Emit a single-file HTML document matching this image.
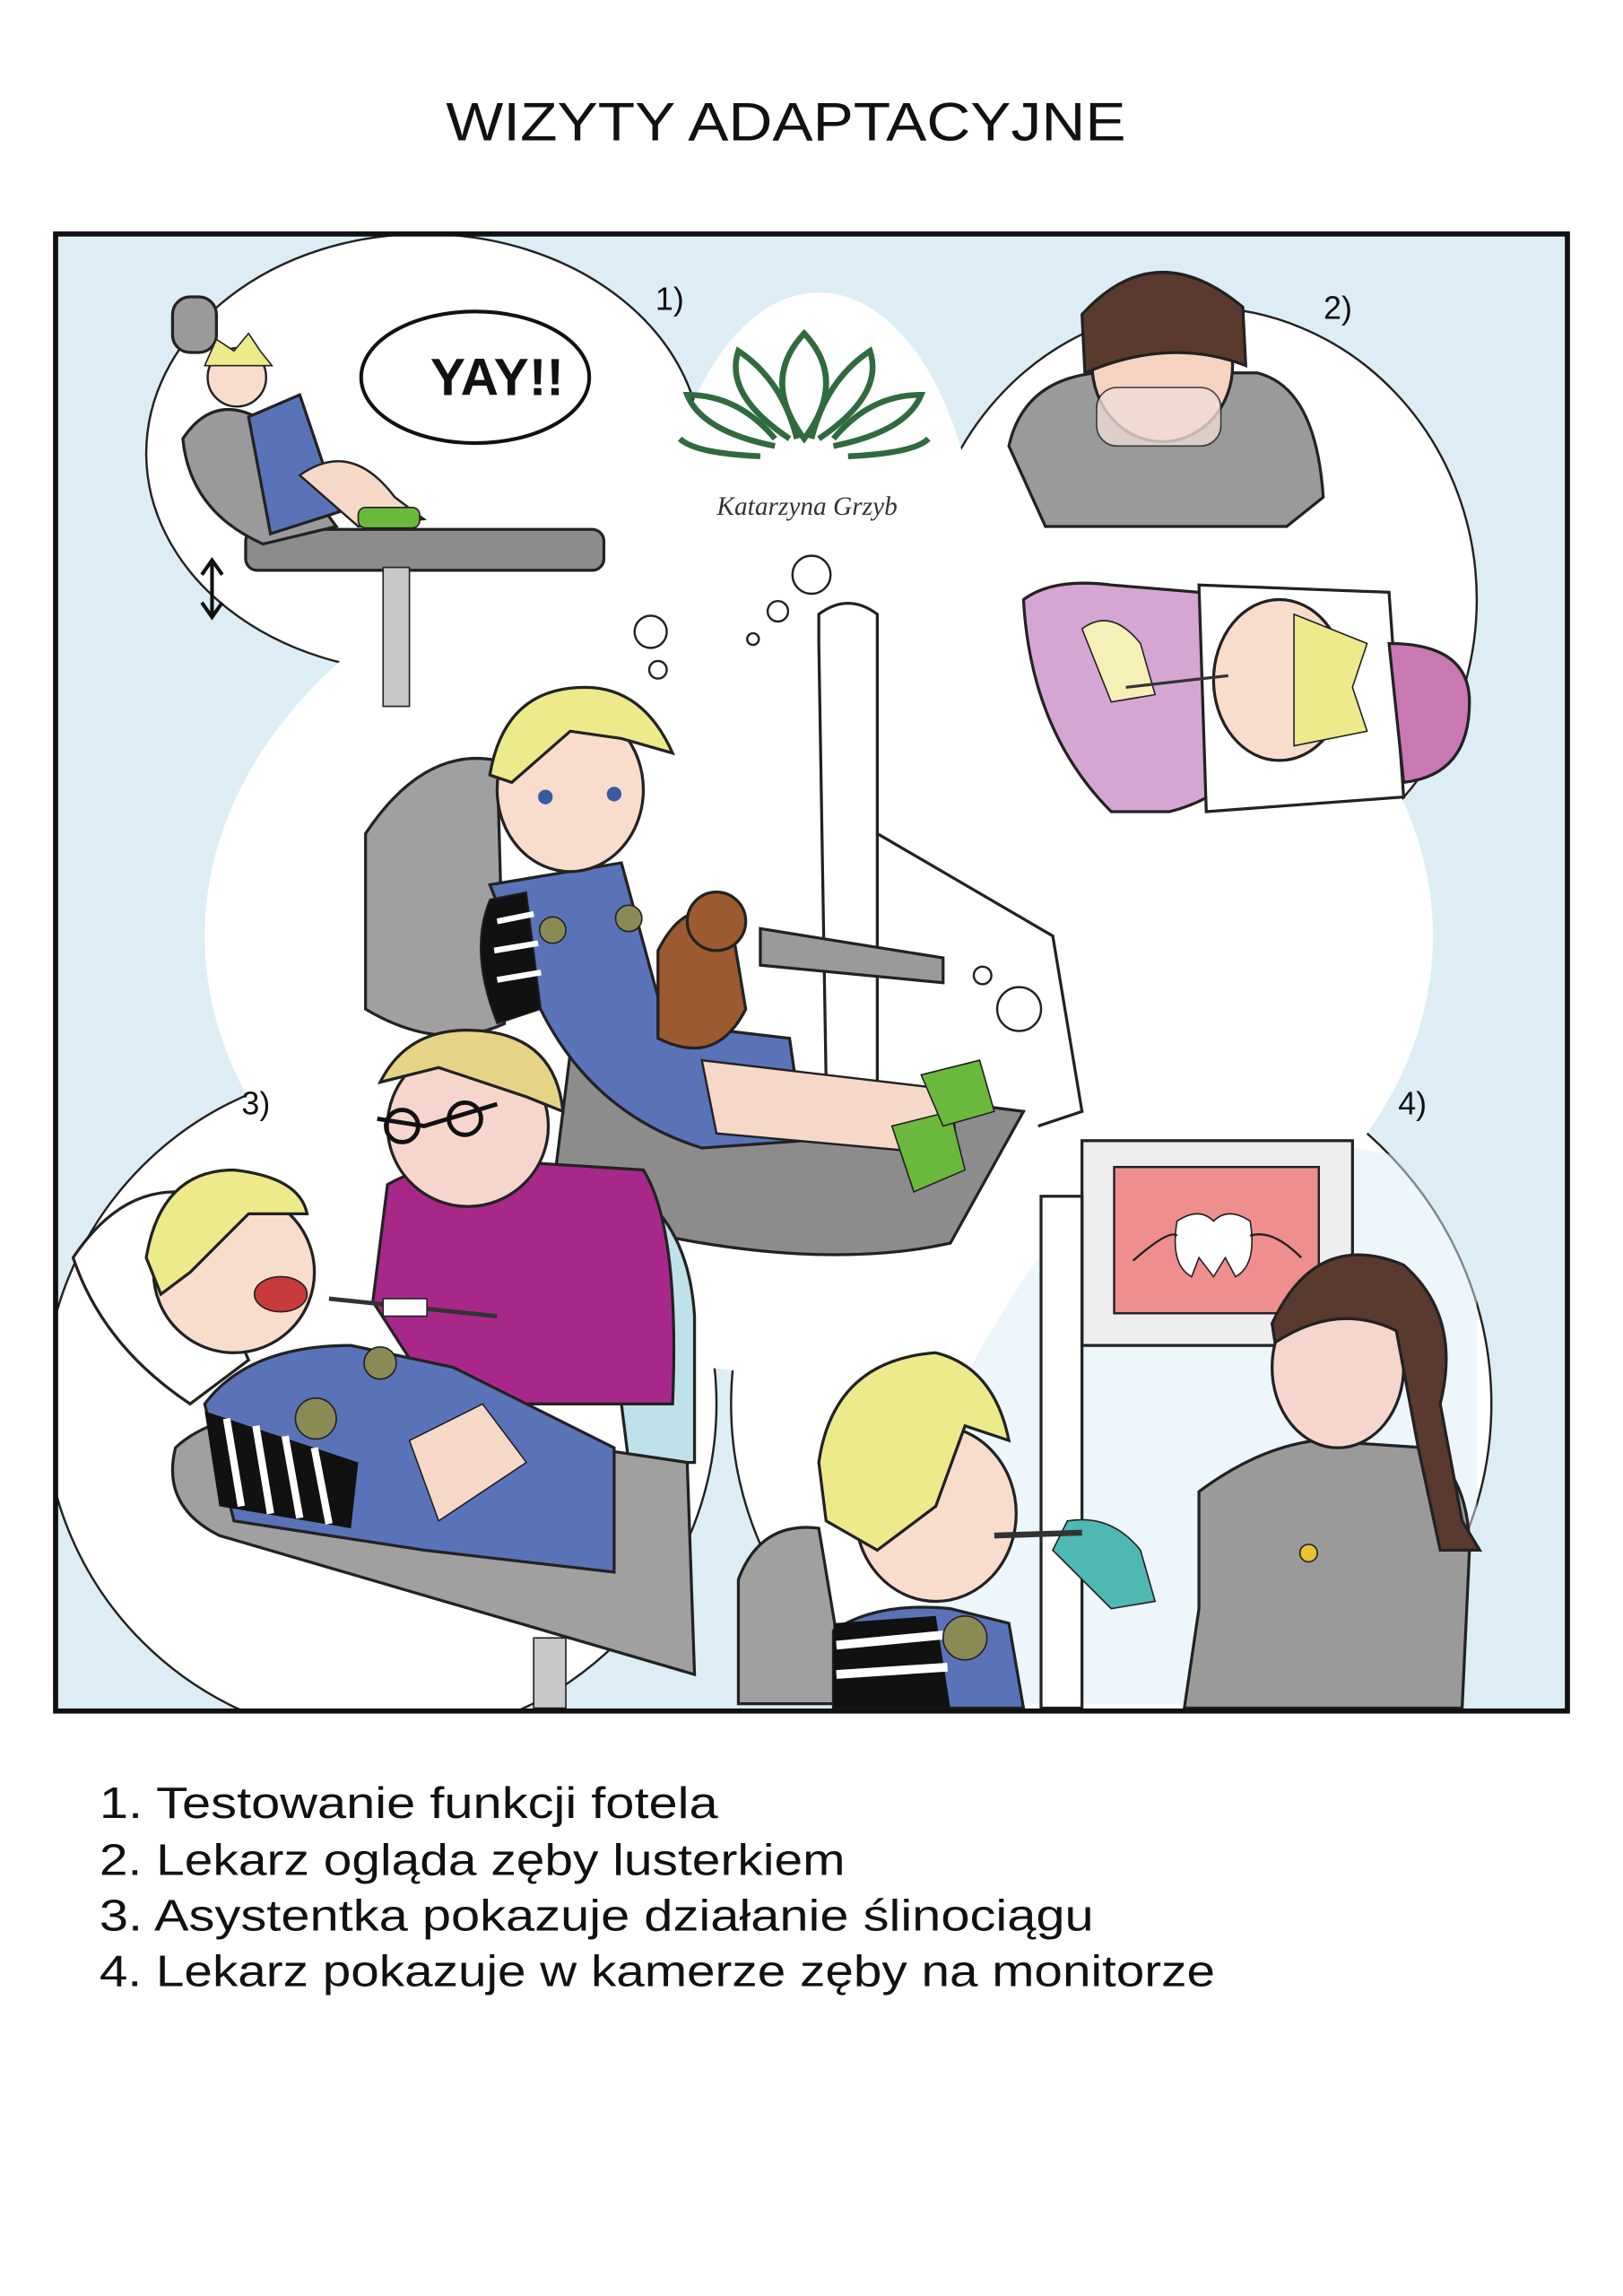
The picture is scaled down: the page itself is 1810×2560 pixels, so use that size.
<!DOCTYPE html>
<html><head><meta charset="utf-8">
<style>
html,body{margin:0;padding:0;background:#fff;}
svg{display:block;}
</style></head>
<body>
<svg width="1810" height="2560" viewBox="0 0 1110 1570" xmlns="http://www.w3.org/2000/svg" font-family="Liberation Sans, DejaVu Sans, sans-serif">
<defs><clipPath id="pc"><rect x="38" y="160" width="1034" height="1010"/></clipPath></defs>
<rect width="1110" height="1570" fill="#fff"/>
<text x="305" y="96" font-size="37" fill="#111" textLength="465" lengthAdjust="spacingAndGlyphs">WIZYTY ADAPTACYJNE</text>

<g clip-path="url(#pc)">
<rect x="38" y="160" width="1034" height="1010" fill="#dcedf5"/>
<g fill="#fff" stroke="#222" stroke-width="1.5">
<ellipse cx="290" cy="310" rx="190" ry="150"/>
<ellipse cx="820" cy="410" rx="190" ry="200"/>
<ellipse cx="260" cy="960" rx="230" ry="230"/>
<ellipse cx="760" cy="960" rx="260" ry="250"/>
</g>
<g fill="#fff">
<ellipse cx="560" cy="640" rx="420" ry="300"/>
<ellipse cx="560" cy="400" rx="110" ry="200"/>
<ellipse cx="260" cy="960" rx="228" ry="228"/>
<ellipse cx="760" cy="960" rx="258" ry="248"/>
<ellipse cx="290" cy="310" rx="188" ry="148"/>
<ellipse cx="820" cy="410" rx="188" ry="198"/>
</g>
<path d="M640 980 Q700 860 760 800 L900 780 L1010 800 L1010 1165 L640 1165 Z" fill="#dcedf5" opacity="0.5"/>

<g fill="#fff" stroke="#222" stroke-width="1.5">
<circle cx="555" cy="393" r="13"/><circle cx="532" cy="418" r="7"/><circle cx="515" cy="437" r="4"/>
<circle cx="445" cy="432" r="11"/><circle cx="450" cy="458" r="6"/>
<circle cx="287" cy="676" r="12"/><circle cx="291" cy="643" r="7"/><circle cx="296" cy="625" r="4"/>
<circle cx="697" cy="690" r="15"/><circle cx="672" cy="667" r="6"/>
</g>

<!-- scene 1 -->
<text x="458" y="212" text-anchor="middle" font-size="22" fill="#111">1)</text>
<ellipse cx="325" cy="258" rx="78" ry="45" fill="#fff" stroke="#111" stroke-width="2.5"/>
<text x="340" y="270" text-anchor="middle" font-size="36" font-weight="bold" fill="#111">YAY!!</text>
<rect x="168" y="362" width="245" height="28" rx="8" fill="#8c8c8c" stroke="#222" stroke-width="2"/>
<rect x="262" y="388" width="18" height="95" fill="#c8c8c8" stroke="#222"/>
<path d="M125 300 Q145 270 175 285 L230 360 L180 372 Q130 350 125 300Z" fill="#9a9a9a" stroke="#222" stroke-width="2"/>
<rect x="118" y="203" width="30" height="38" rx="12" fill="#9a9a9a" stroke="#222" stroke-width="2"/>
<path d="M170 285 L205 270 L232 350 L185 365 Z" fill="#5a73b8" stroke="#222" stroke-width="2"/>
<path d="M205 325 Q240 300 270 340 L290 355 L245 360 Z" fill="#f6d8c8" stroke="#222" stroke-width="1.5"/>
<circle cx="162" cy="258" r="20" fill="#f8ddcc" stroke="#222" stroke-width="1.5"/>
<path d="M140 250 L148 232 L160 240 L170 228 L178 240 L186 250 Z" fill="#ecea8a" stroke="#222"/>
<rect x="245" y="347" width="42" height="14" rx="5" fill="#6ab93c" stroke="#222"/>
<path d="M145 420 L145 385 M138 393 L145 383 L152 393 M138 412 L145 422 L152 412" stroke="#111" stroke-width="2.5" fill="none"/>

<g stroke="#2f6b3e" stroke-width="4" fill="none">
<path d="M550 300 Q520 260 550 228 Q580 260 550 300Z"/>
<path d="M540 300 Q495 270 505 240 Q535 260 545 300"/>
<path d="M560 300 Q605 270 595 240 Q565 260 555 300"/>
<path d="M530 305 Q480 295 470 270 Q505 270 530 300"/>
<path d="M570 305 Q620 295 630 270 Q595 270 570 300"/>
<path d="M520 312 Q475 310 465 300"/><path d="M580 312 Q625 310 635 300"/>
</g>
<text x="552" y="352" text-anchor="middle" font-size="18" font-style="italic" font-family="Liberation Serif, serif" fill="#333">Katarzyna Grzyb</text>

<!-- scene 2 -->
<text x="915" y="218" text-anchor="middle" font-size="22" fill="#111">2)</text>
<path d="M690 305 Q700 260 750 255 L860 255 Q900 265 905 340 L880 360 L715 360 Z" fill="#9a9a9a" stroke="#222" stroke-width="2"/>
<path d="M700 410 Q720 395 760 400 L880 410 L880 470 Q860 540 800 555 L760 555 Q705 500 700 410Z" fill="#d6a6d3" stroke="#222" stroke-width="2"/>
<path d="M820 400 L950 405 L960 545 L825 555 Z" fill="#fff" stroke="#222" stroke-width="2"/>
<path d="M950 440 Q1005 440 1005 480 Q1005 530 960 535 Z" fill="#c879b2" stroke="#222" stroke-width="2"/>
<ellipse cx="875" cy="465" rx="45" ry="55" fill="#f8ddcc" stroke="#222" stroke-width="2"/>
<path d="M885 420 L935 440 L925 470 L935 500 L885 510 Z" fill="#ecea8a" stroke="#222"/>
<ellipse cx="795" cy="250" rx="48" ry="52" fill="#f5d2c2" stroke="#222" stroke-width="2"/>
<path d="M740 215 Q790 160 850 210 L852 250 Q800 230 742 255 Z" fill="#5a3a2e" stroke="#222" stroke-width="2"/>
<rect x="750" y="265" width="85" height="40" rx="14" fill="#f0dcd5" stroke="#222" opacity="0.8"/>
<path d="M740 430 Q760 415 780 440 L790 475 L760 480 Z" fill="#f5f0b8" stroke="#222"/>
<line x1="770" y1="470" x2="840" y2="462" stroke="#333" stroke-width="2"/>

<!-- center scene -->
<path d="M560 440 L560 420 Q580 405 600 420 L600 740 L565 740 Z" fill="#fff" stroke="#222" stroke-width="2"/>
<path d="M600 570 L720 640 L740 760 L710 770" fill="none" stroke="#222" stroke-width="2"/>
<path d="M250 570 Q290 510 340 520 L345 700 Q300 720 250 690 Z" fill="#a0a0a0" stroke="#222" stroke-width="2"/>
<path d="M390 720 L700 760 L650 850 Q560 870 430 840 L380 800 Z" fill="#8c8c8c" stroke="#222" stroke-width="2"/>
<path d="M520 635 L645 655 L645 672 L520 660 Z" fill="#9a9a9a" stroke="#222" stroke-width="2"/>
<path d="M335 605 L425 590 L455 700 L540 710 L550 780 L480 785 Q400 760 365 680 Z" fill="#5a73b8" stroke="#222" stroke-width="2"/>
<path d="M335 615 Q320 650 340 700 L370 690 L360 610 Z" fill="#111" stroke="#222"/>
<path d="M340 630 L365 625 M338 650 L368 645 M340 670 L370 665" stroke="#fff" stroke-width="4"/>
<path d="M480 725 L650 745 L655 790 L490 775 Z" fill="#f6d8c8" stroke="#222" stroke-width="1.5"/>
<path d="M610 770 L650 760 L660 800 L625 815 Z" fill="#6ab93c" stroke="#222"/>
<path d="M630 735 L670 725 L680 760 L645 770 Z" fill="#6ab93c" stroke="#222"/>
<ellipse cx="390" cy="540" rx="50" ry="56" fill="#f8ddcc" stroke="#222" stroke-width="2"/>
<path d="M335 530 Q345 470 400 470 Q440 470 460 515 L425 505 L390 500 L350 535 Z" fill="#ecea8a" stroke="#222" stroke-width="2"/>
<circle cx="373" cy="545" r="5" fill="#3a5aa0"/><circle cx="420" cy="543" r="5" fill="#3a5aa0"/>
<path d="M450 650 Q470 610 500 630 L510 690 Q490 730 450 710 Z" fill="#9b5a30" stroke="#222" stroke-width="2"/>
<circle cx="490" cy="630" r="20" fill="#9b5a30" stroke="#222" stroke-width="2"/>
<circle cx="378" cy="636" r="9" fill="#8a8a55" stroke="#222"/><circle cx="430" cy="628" r="9" fill="#8a8a55" stroke="#222"/>

<!-- scene 3 -->
<text x="175" y="762" text-anchor="middle" font-size="22" fill="#111">3)</text>
<path d="M405 800 Q470 820 475 900 L475 1000 L430 1000 Z" fill="#bfe1ea" stroke="#222" stroke-width="2"/>
<path d="M120 990 Q140 970 200 960 L470 1000 L475 1145 L150 1050 Q110 1030 120 990Z" fill="#a0a0a0" stroke="#222" stroke-width="2"/>
<rect x="365" y="1120" width="22" height="48" fill="#c8c8c8" stroke="#222"/>
<path d="M50 860 Q80 815 120 815 L170 930 L130 960 Q70 920 50 860Z" fill="#fff" stroke="#222" stroke-width="2"/>
<path d="M265 810 Q300 790 360 795 L440 800 Q465 840 460 960 L300 960 L255 890 Z" fill="#a8288a" stroke="#222" stroke-width="2"/>
<ellipse cx="320" cy="770" rx="55" ry="55" fill="#f6d6cc" stroke="#222" stroke-width="2"/>
<path d="M260 740 Q280 700 330 705 Q380 710 385 760 L360 750 L300 730 Z" fill="#e6d486" stroke="#222" stroke-width="2"/>
<path d="M258 765 L290 770 L340 755" fill="none" stroke="#111" stroke-width="3"/>
<circle cx="275" cy="770" r="11" fill="none" stroke="#111" stroke-width="3"/><circle cx="318" cy="765" r="11" fill="none" stroke="#111" stroke-width="3"/>
<path d="M140 960 Q170 920 240 920 L310 935 L420 990 L420 1075 L290 1060 L160 1040 Z" fill="#5a73b8" stroke="#222" stroke-width="2"/>
<path d="M140 965 L245 1000 L240 1045 L150 1030 Z" fill="#111"/>
<path d="M155 970 L165 1030 M175 975 L185 1035 M195 982 L205 1038 M215 990 L225 1042" stroke="#fff" stroke-width="5"/>
<path d="M280 985 L330 960 L360 1000 L300 1040 Z" fill="#f6d8c8" stroke="#222"/>
<ellipse cx="160" cy="870" rx="55" ry="55" fill="#f8ddcc" stroke="#222" stroke-width="2"/>
<path d="M100 860 Q110 800 160 800 Q205 805 210 830 L170 830 L130 870 L110 885 Z" fill="#ecea8a" stroke="#222" stroke-width="2"/>
<ellipse cx="192" cy="885" rx="18" ry="12" fill="#c93a3a" stroke="#222"/>
<line x1="225" y1="888" x2="340" y2="900" stroke="#333" stroke-width="3"/>
<rect x="262" y="888" width="30" height="12" fill="#fff" stroke="#222"/>
<circle cx="216" cy="970" r="14" fill="#8a8a55" stroke="#222"/><circle cx="260" cy="932" r="11" fill="#8a8a55" stroke="#222"/>

<!-- scene 4 -->
<text x="966" y="762" text-anchor="middle" font-size="22" fill="#111">4)</text>
<rect x="740" y="780" width="185" height="140" fill="#eee" stroke="#222" stroke-width="2"/>
<rect x="762" y="798" width="140" height="100" fill="#ef8e8e" stroke="#222" stroke-width="1.5"/>
<path d="M805 835 Q820 825 830 835 Q840 825 855 835 Q860 865 845 873 L838 860 L830 873 L820 860 L815 873 Q800 865 805 835Z" fill="#fff" stroke="#222"/>
<path d="M775 862 Q800 840 805 845 M855 845 Q870 840 890 860" fill="none" stroke="#222" stroke-width="1.5"/>
<rect x="712" y="818" width="28" height="350" fill="#fff" stroke="#222" stroke-width="2"/>
<path d="M505 1165 L505 1080 Q520 1040 560 1045 L580 1165 Z" fill="#a0a0a0" stroke="#222" stroke-width="2"/>
<path d="M570 1115 Q600 1095 650 1100 L690 1110 L700 1168 L570 1168 Z" fill="#5a73b8" stroke="#222" stroke-width="2"/>
<path d="M570 1110 L640 1105 L650 1168 L570 1168 Z" fill="#111"/>
<path d="M572 1125 L645 1118 M572 1145 L648 1140" stroke="#fff" stroke-width="6"/>
<ellipse cx="640" cy="1035" rx="55" ry="60" fill="#f8ddcc" stroke="#222" stroke-width="2"/>
<path d="M560 1000 Q570 930 640 925 Q680 935 690 985 L660 975 L640 1030 L600 1060 L565 1040 Z" fill="#ecea8a" stroke="#222" stroke-width="2"/>
<circle cx="660" cy="1120" r="15" fill="#8a8a55" stroke="#222"/>
<path d="M820 1020 Q860 990 900 985 L975 990 Q1005 1010 1005 1060 L1000 1168 L810 1168 L820 1100 Z" fill="#9a9a9a" stroke="#222" stroke-width="2"/>
<ellipse cx="915" cy="935" rx="45" ry="55" fill="#f6d6cc" stroke="#222" stroke-width="2"/>
<path d="M870 905 Q900 840 960 865 Q1000 900 985 960 L1000 1040 L1012 1060 L985 1060 L970 990 L955 910 Q915 890 872 918 Z" fill="#5a3a2e" stroke="#222" stroke-width="2"/>
<path d="M730 1040 Q760 1035 780 1060 L790 1095 L760 1100 L720 1060 Z" fill="#4fb8b0" stroke="#222"/>
<line x1="680" y1="1050" x2="740" y2="1048" stroke="#333" stroke-width="4"/>
<circle cx="895" cy="1062" r="6" fill="#e8c530" stroke="#222"/>
</g>

<rect x="38" y="160" width="1034" height="1010" fill="none" stroke="#111" stroke-width="3.5"/>

<g font-size="30" fill="#111">
<text x="68" y="1243" textLength="423" lengthAdjust="spacingAndGlyphs">1. Testowanie funkcji fotela</text>
<text x="68" y="1282" textLength="510" lengthAdjust="spacingAndGlyphs">2. Lekarz ogląda zęby lusterkiem</text>
<text x="68" y="1320" textLength="680" lengthAdjust="spacingAndGlyphs">3. Asystentka pokazuje działanie ślinociągu</text>
<text x="68" y="1358" textLength="763" lengthAdjust="spacingAndGlyphs">4. Lekarz pokazuje w kamerze zęby na monitorze</text>
</g>
</svg>
</body></html>
